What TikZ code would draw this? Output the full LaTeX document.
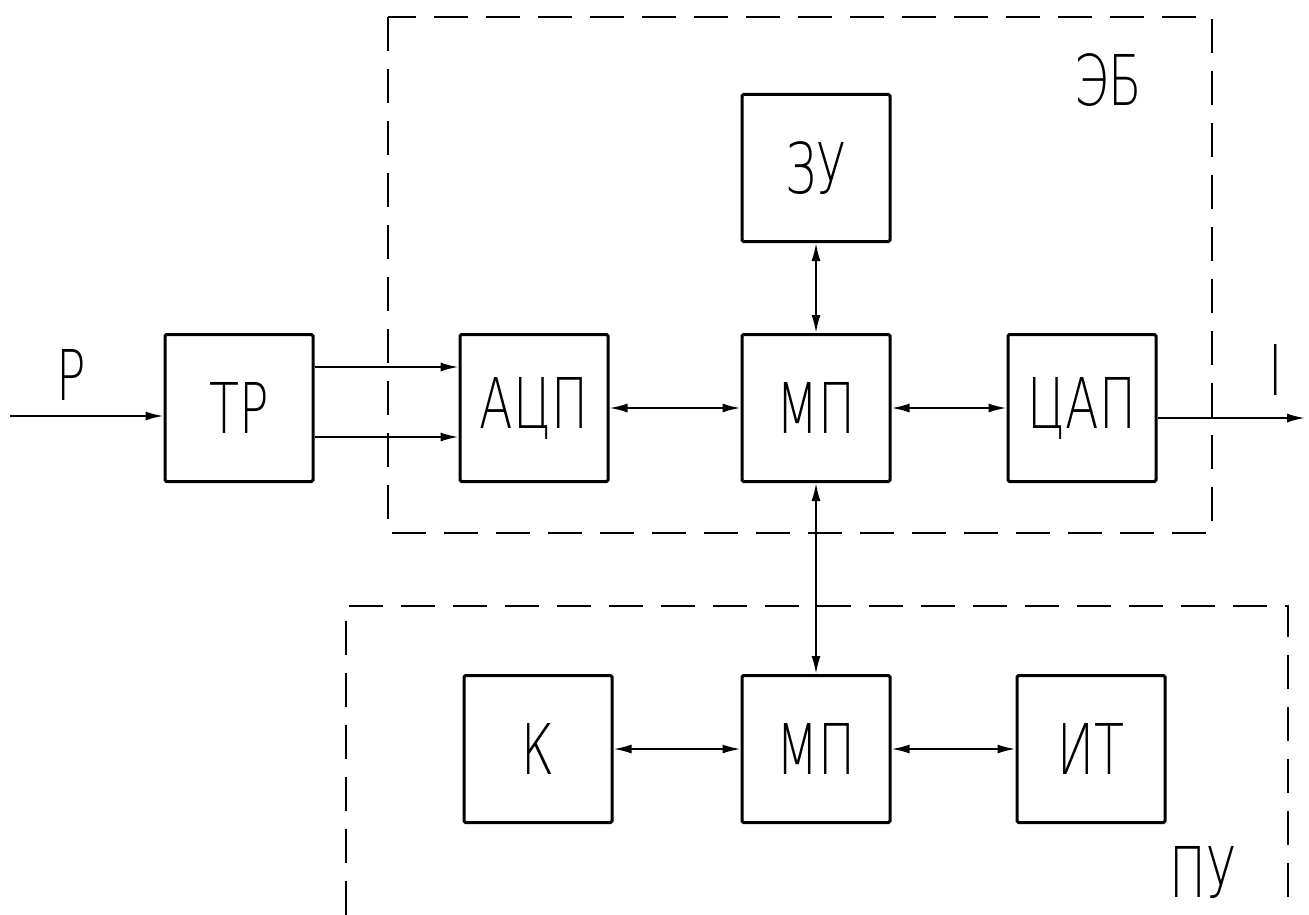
\documentclass[tikz,border=0pt]{standalone}
\usepackage{fontspec}
\IfFontExistsTF{DejaVu Sans ExtraLight}
  {\newfontfamily\gost[FakeStretch=0.7]{DejaVu Sans ExtraLight}}
  {\newfontfamily\gost[FakeStretch=0.7]{Liberation Sans}}
\usetikzlibrary{arrows.meta,calc}
\begin{document}
\begin{tikzpicture}[x=1pt,y=-1pt,
  blk/.style={draw,line width=3pt,rounded corners=1.5pt,minimum width=148pt,minimum height=147pt,inner sep=0pt,font=\gost\fontsize{70}{70}\selectfont},
  lbl/.style={inner sep=0pt,font=\gost\fontsize{70}{70}\selectfont},
  con/.style={line width=2pt},
  arr/.style={con,-{Latex[length=18pt,width=9pt]}},
  biarr/.style={con,{Latex[length=18pt,width=9pt]}-{Latex[length=18pt,width=9pt]}},
  frame/.style={line width=2pt,dash pattern=on 34pt off 18pt}]
\useasboundingbox (0,0) rectangle (1309,915);
% frames
\draw[frame] (388,17) rectangle (1212,533);
\draw[frame] (346,915) -- (346,606) -- (1288,606) -- (1288,915);
% blocks
\node[blk] (TR) at (239,408) {ТР};
\node[blk] (ADC) at (534,408) {АЦП};
\node[blk] (MP1) at (816,408) {МП};
\node[blk] (DAC) at (1082,408) {ЦАП};
\node[blk] (ZU) at (816,168) {ЗУ};
\node[blk] (K) at (538,749) {К};
\node[blk] (MP2) at (816,749) {МП};
\node[blk] (IT) at (1091,749) {ИТ};
% labels
\node[lbl] (P) at (71,375) {P};
\node[lbl] (I) at (1276,370) {I};
\node[lbl] (EB) at (1108,80) {ЭБ};
\node[lbl] (PU) at (1203,872) {ПУ};
% connectors
\coordinate (pin) at (10,416);
\coordinate (pout) at (1305,418);
\draw[arr] (pin) -- (pin -| TR.west);
\draw[arr] ([yshift=41pt]TR.east) -- ([yshift=41pt]ADC.west);
\draw[arr] ([yshift=-29pt]TR.east) -- ([yshift=-29pt]ADC.west);
\draw[biarr] (ADC.east) -- (MP1.west);
\draw[biarr] (MP1.east) -- (DAC.west);
\draw[arr] (pout -| DAC.east) -- (pout);
\draw[biarr] (ZU.south) -- (MP1.north);
\draw[biarr] (MP1.south) -- (MP2.north);
\draw[biarr] (K.east) -- (MP2.west);
\draw[biarr] (MP2.east) -- (IT.west);
\end{tikzpicture}
\end{document}
